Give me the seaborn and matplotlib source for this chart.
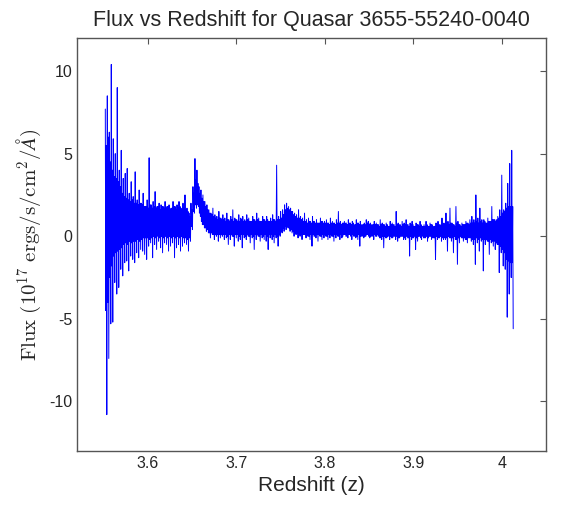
import numpy as np
import pandas as pd
import matplotlib
matplotlib.use("Agg")
import matplotlib.pyplot as plt
import seaborn as sns

# spectrum read off the picture, sampled every ~2 px between z = 3.552 and 4.013:
# flux_hi / flux_lo are the outer tips of the noise, core_hi / core_lo the edges
# of the dense band
z_start = 3.552
z_end = 4.013

flux_hi = [
    7.7, 8.5, 6.3, 10.4, 5.9, 5.0, 9.0, 4.0, 5.2, 3.5,
    3.8, 4.1, 2.6, 3.3, 2.4, 3.9, 2.2, 2.8, 2.0, 2.6,
    1.8, 2.2, 4.75, 1.9, 2.1, 2.7, 1.8, 2.0, 1.9, 1.8,
    2.1, 1.8, 1.9, 1.7, 2.1, 1.8, 1.9, 2.1, 1.7, 2.0,
    2.5, 1.7, 1.4, 2.0, 3.0, 4.7, 4.0, 3.0, 2.8, 2.5,
    2.1, 1.9, 1.6, 1.4, 1.7, 1.3, 1.2, 1.5, 1.1, 1.3,
    1.1, 1.4, 1.0, 1.2, 1.6, 1.1, 1.0, 1.3, 1.1, 1.2,
    1.0, 1.3, 1.1, 0.9, 1.2, 1.0, 1.4, 1.1, 0.9, 1.2,
    1.0, 1.2, 0.9, 1.1, 1.3, 1.0, 4.3, 1.2, 1.5, 1.6,
    1.9, 2.0, 1.8, 1.7, 1.5, 1.4, 1.3, 1.6, 1.2, 1.1,
    1.4, 1.0, 1.1, 0.9, 1.2, 0.9, 1.0, 0.8, 1.1, 0.9,
    0.9, 1.0, 0.8, 1.1, 0.9, 0.8, 1.0, 1.5, 0.9, 0.8,
    0.9, 0.8, 1.0, 0.8, 0.9, 0.7, 1.0, 0.8, 0.9, 0.7,
    0.8, 1.0, 0.9, 0.8, 0.7, 0.9, 0.8, 0.7, 1.0, 0.8,
    0.7, 0.8, 0.6, 0.9, 0.8, 0.7, 1.5, 0.8, 0.7, 0.9,
    0.8, 1.0, 0.7, 0.8, 0.9, 0.6, 0.8, 0.7, 0.9, 0.6,
    0.7, 0.9, 0.6, 0.8, 0.7, 0.6, 0.8, 0.9, 0.7, 1.1,
    0.8, 1.4, 0.9, 1.7, 0.8, 0.7, 1.8, 0.9, 0.7, 0.8,
    0.7, 0.9, 0.8, 1.0, 1.2, 1.0, 2.5, 1.1, 1.7, 1.0,
    1.0, 0.8, 1.1, 0.9, 1.8, 1.0, 0.9, 1.2, 1.6, 3.7,
    1.6, 2.0, 3.2, 4.4, 5.2,
]

core_hi = [
    5.5, 6.0, 4.5, 4.0, 3.6, 3.5, 3.3, 3.0, 2.6, 2.4,
    2.3, 2.2, 2.1, 2.2, 2.0, 2.0, 1.9, 2.0, 1.9, 1.8,
    1.8, 1.7, 1.9, 1.7, 1.8, 1.7, 1.8, 1.6, 1.8, 1.7,
    1.7, 1.8, 1.6, 1.7, 1.8, 1.6, 1.7, 1.8, 1.6, 1.7,
    1.6, 1.5, 1.2, 1.6, 2.6, 3.4, 3.2, 2.6, 2.3, 2.1,
    1.8, 1.6, 1.4, 1.3, 1.2, 1.1, 1.0, 1.1, 1.0, 1.0,
    0.9, 1.0, 0.9, 1.0, 0.9, 1.0, 0.9, 0.9, 1.0, 0.9,
    0.9, 1.0, 0.9, 0.9, 1.0, 0.9, 1.0, 0.9, 0.9, 1.0,
    0.9, 1.0, 0.9, 0.9, 1.0, 0.9, 1.0, 1.0, 1.1, 1.3,
    1.6, 1.7, 1.6, 1.5, 1.3, 1.2, 1.1, 1.1, 1.0, 0.9,
    0.9, 0.8, 0.9, 0.8, 0.9, 0.8, 0.8, 0.8, 0.9, 0.8,
    0.8, 0.8, 0.7, 0.8, 0.8, 0.7, 0.8, 0.8, 0.7, 0.8,
    0.8, 0.7, 0.8, 0.7, 0.8, 0.7, 0.8, 0.7, 0.7, 0.7,
    0.7, 0.8, 0.7, 0.7, 0.7, 0.7, 0.7, 0.6, 0.7, 0.7,
    0.6, 0.7, 0.6, 0.7, 0.7, 0.6, 0.7, 0.7, 0.6, 0.7,
    0.7, 0.7, 0.6, 0.7, 0.7, 0.6, 0.7, 0.6, 0.7, 0.6,
    0.6, 0.7, 0.6, 0.7, 0.6, 0.6, 0.7, 0.7, 0.6, 0.7,
    0.7, 0.8, 0.7, 0.8, 0.7, 0.6, 0.8, 0.7, 0.6, 0.7,
    0.7, 0.8, 0.7, 0.8, 0.8, 0.8, 0.9, 0.8, 0.9, 0.8,
    0.9, 0.8, 0.9, 0.9, 1.0, 1.0, 1.0, 1.1, 1.2, 1.4,
    1.5, 1.7, 1.8, 1.8, 1.8,
]

core_lo = [
    -4.5, -4.0, -2.5, -1.8, -1.2, -1.0, -0.9, -0.8, -0.7, -0.5,
    -0.4, -0.5, -0.3, -0.4, -0.3, -0.3, -0.2, -0.3, -0.2, -0.1,
    -0.1, -0.1, -0.2, -0.1, 0.0, -0.1, 0.0, -0.1, 0.0, -0.1,
    0.0, -0.1, 0.0, -0.1, 0.0, -0.1, 0.0, -0.1, 0.0, -0.1,
    -0.1, -0.2, -0.1, 0.6, 1.5, 1.9, 1.9, 1.4, 0.9, 0.7,
    0.5, 0.4, 0.2, 0.2, 0.1, 0.1, 0.1, 0.1, 0.1, 0.1,
    0.1, 0.0, 0.1, 0.1, 0.0, 0.1, 0.1, 0.0, 0.1, 0.1,
    0.0, 0.1, 0.0, 0.1, 0.0, 0.1, 0.1, 0.0, 0.1, 0.0,
    0.1, 0.0, 0.1, 0.1, 0.0, 0.1, 0.0, 0.1, 0.3, 0.5,
    0.6, 0.6, 0.5, 0.4, 0.3, 0.2, 0.2, 0.1, 0.1, 0.1,
    0.1, 0.1, 0.0, 0.1, 0.1, 0.0, 0.1, 0.1, 0.0, 0.1,
    0.1, 0.0, 0.1, 0.1, 0.0, 0.1, 0.1, 0.0, 0.1, 0.0,
    0.1, 0.0, 0.1, 0.0, 0.1, 0.0, 0.0, 0.1, 0.0, 0.0,
    0.0, 0.1, 0.0, 0.0, 0.0, 0.1, 0.0, 0.0, -0.1, 0.0,
    0.0, -0.1, 0.0, 0.0, -0.1, 0.0, 0.0, -0.1, 0.0, 0.0,
    -0.1, 0.0, -0.1, 0.0, -0.1, 0.0, -0.1, 0.0, -0.1, 0.0,
    -0.1, 0.0, -0.1, 0.0, -0.1, -0.1, 0.0, -0.1, 0.0, -0.1,
    -0.1, -0.1, 0.0, -0.1, -0.1, 0.0, -0.2, -0.1, 0.0, -0.1,
    -0.1, -0.2, -0.1, -0.1, -0.2, -0.2, -0.1, -0.2, -0.1, -0.2,
    -0.2, -0.2, -0.3, -0.2, -0.3, -0.3, -0.4, -0.5, -0.6, -0.8,
    -1.0, -1.4, -1.5, -1.6, -1.6,
]

flux_lo = [
    -10.8, -7.4, -5.3, -5.2, -2.8, -3.5, -3.1, -2.0, -2.4, -1.6,
    -1.5, -2.1, -1.2, -1.4, -1.6, -1.0, -1.3, -0.8, -0.9, -1.1,
    -1.4, -0.6, -0.4, -1.3, -0.5, -0.8, -0.3, -0.7, -1.0, -0.4,
    -0.5, -0.9, -0.6, -0.4, -1.3, -0.7, -0.5, -0.9, -0.6, -0.4,
    -0.5, -0.9, -0.3, 0.4, 1.4, 1.7, 1.8, 1.2, 0.7, 0.5,
    0.3, 0.2, -0.1, 0.1, -0.2, 0.0, -0.3, -0.1, 0.0, -0.2,
    -0.1, -0.5, -0.2, 0.0, -0.6, -0.1, -0.3, -0.2, -0.7, -0.1,
    -0.2, 0.0, -0.4, -0.1, -0.8, -0.2, 0.0, -0.3, -0.1, -0.2,
    -0.3, -0.8, -0.1, -0.2, -0.4, -0.1, -0.6, 0.0, 0.2, 0.3,
    0.4, 0.5, 0.3, 0.2, 0.0, 0.1, -0.1, 0.0, -0.2, 0.1,
    -0.1, 0.0, -0.2, -0.6, 0.0, -0.1, -0.3, 0.0, -0.2, -0.1,
    0.0, -0.2, -0.1, 0.0, -0.3, -0.1, 0.0, -0.2, -0.1, 0.1,
    0.0, -0.1, 0.1, -0.2, 0.0, -0.1, -0.2, -0.6, 0.0, -0.1,
    0.0, 0.1, -0.1, 0.0, -0.2, 0.0, 0.1, -0.1, -0.2, -0.7,
    -0.1, 0.0, -0.2, -0.1, 0.0, -0.2, -0.3, -0.1, 0.0, -0.2,
    -0.2, -0.1, -1.2, -0.2, -0.1, -0.8, -0.3, 0.0, -0.2, -0.1,
    -0.1, -0.3, 0.0, -0.2, -0.1, -1.4, -0.2, -0.1, -0.3, -0.2,
    -0.2, -0.9, -0.1, -0.3, -1.0, -0.2, -1.7, -0.4, -0.1, -0.3,
    -0.2, -0.4, -0.1, -0.3, -0.5, -1.7, -0.4, -0.9, -0.3, -2.1,
    -0.5, -0.3, -1.1, -0.4, -0.6, -0.8, -0.5, -2.2, -1.0, -1.8,
    -2.0, -4.9, -3.5, -2.5, -5.6,
]

# zigzag through tips and band edges, like the dense raw spectrum
flux = np.column_stack([flux_hi, core_lo, core_hi, flux_lo]).ravel()
z = np.linspace(z_start, z_end, len(flux))
df = pd.DataFrame({"z": z, "flux": flux})

sns.set_style("white")
plt.rcParams["font.family"] = ["Liberation Sans", "DejaVu Sans"]
plt.rcParams["mathtext.fontset"] = "cm"
plt.rcParams["axes.unicode_minus"] = False

fig = plt.figure(figsize=(5.64, 5.07), dpi=100)
ax = fig.add_axes([0.1365, 0.1105, 0.8315, 0.8145])

sns.lineplot(data=df, x="z", y="flux", color="#0000ff", lw=0.7,
             estimator=None, sort=False, ax=ax)

ax.set_xlim(3.52, 4.05)
ax.set_ylim(-13, 12)
ax.set_xticks([3.6, 3.7, 3.8, 3.9, 4.0])
ax.set_xticklabels(["3.6", "3.7", "3.8", "3.9", "4"])
ax.set_yticks([-10, -5, 0, 5, 10])
ax.tick_params(direction="in", length=4, width=0.8, labelsize=11.5,
               top=True, right=True, color="#555555")
for s in ax.spines.values():
    s.set_color("#555555")
    s.set_linewidth(1.0)

ax.set_title("Flux vs Redshift for Quasar 3655-55240-0040", fontsize=15.5, pad=9)
ax.set_xlabel("Redshift (z)", fontsize=15)
ax.set_ylabel(r"$\mathrm{Flux}\ (10^{17}\ \mathrm{ergs/s/cm}^2/\AA)$", fontsize=15)

fig.savefig("out.png", dpi=100)
